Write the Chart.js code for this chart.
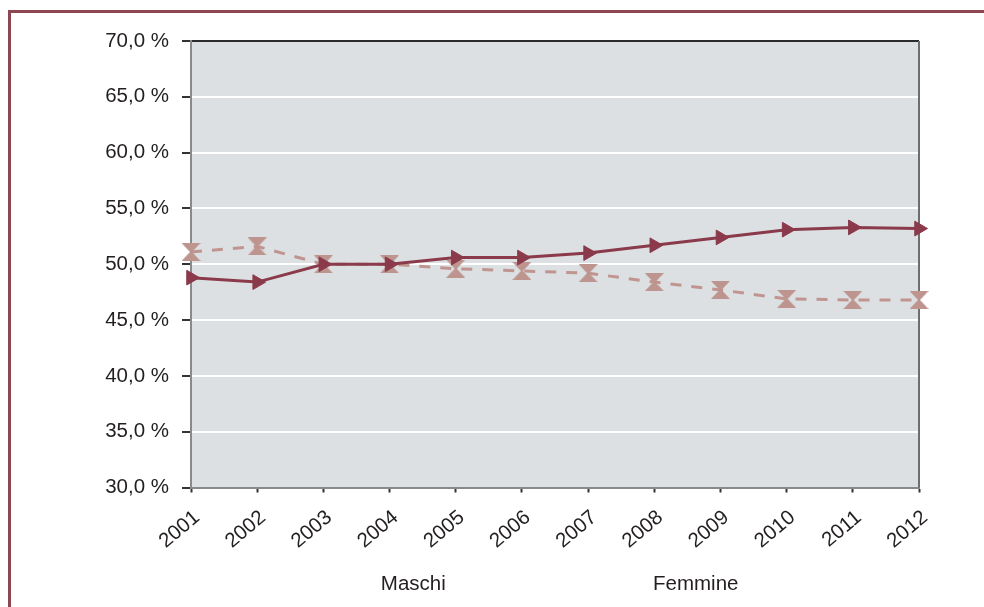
<!DOCTYPE html>
<html>
<head>
<meta charset="utf-8">
<script src="https://cdn.jsdelivr.net/npm/chart.js@4/dist/chart.umd.min.js"></script>
<style>
  html, body { margin: 0; padding: 0; background: #fff; overflow: hidden; }
  #cornice {
    position: absolute; left: 8px; top: 10px; width: 2000px; height: 2000px;
    border-top: 3px solid #8d4652; border-left: 3px solid #8d4652;
  }
  #box { position: absolute; left: 0; top: 0; width: 984px; height: 607px; }
</style>
</head>
<body>
<div id="cornice"></div>
<div id="box"><canvas id="grafico" width="984" height="607"></canvas></div>
<script>
// Dati
const anni = ['2001', '2002', '2003', '2004', '2005', '2006', '2007', '2008', '2009', '2010', '2011', '2012'];
const maschi = [48.8, 48.4, 50.0, 50.0, 50.6, 50.6, 51.0, 51.7, 52.4, 53.1, 53.3, 53.2];
const femmine = [51.1, 51.6, 50.0, 50.0, 49.6, 49.4, 49.2, 48.4, 47.7, 46.9, 46.8, 46.8];
const etichette = ['Maschi', 'Femmine'];

const FONT = { family: '"Liberation Sans", Arial, sans-serif', size: 20.5 };
const TESTO = '#231f20';

// marcatore a clessidra per le femmine
function clessidra(colore) {
  const c = document.createElement('canvas');
  c.width = 19; c.height = 18;
  const g = c.getContext('2d');
  g.fillStyle = colore;
  g.beginPath();
  g.moveTo(0, 0); g.lineTo(19, 0); g.lineTo(10.5, 9); g.lineTo(19, 18); g.lineTo(0, 18); g.lineTo(8.5, 9);
  g.closePath();
  g.fill();
  return c;
}

const sfondo = {
  id: 'sfondo',
  beforeDraw(chart) {
    const a = chart.chartArea, ctx = chart.ctx;
    ctx.save();
    ctx.fillStyle = '#dce0e3';
    ctx.fillRect(a.left, a.top, a.right - a.left, a.bottom - a.top);
    ctx.restore();
  },
  beforeDatasetsDraw(chart) {
    const a = chart.chartArea, ctx = chart.ctx;
    ctx.save();
    ctx.strokeStyle = '#6e6e6e';
    ctx.lineWidth = 2;
    ctx.beginPath();
    ctx.moveTo(a.right, a.top);
    ctx.lineTo(a.right, a.bottom);
    ctx.stroke();
    ctx.restore();
  }
};

const ctx = document.getElementById('grafico').getContext('2d');
new Chart(ctx, {
  type: 'line',
  data: {
    labels: anni,
    datasets: [{
      label: etichette[0],
      data: maschi,
      borderColor: '#8a3a4a',
      backgroundColor: 'transparent',
      borderWidth: 3,
      pointStyle: 'triangle',
      rotation: 90,
      pointRadius: 8.5,
      pointBorderWidth: 1,
      pointBackgroundColor: '#8a3a4a',
      pointBorderColor: '#8a3a4a',
      tension: 0,
      clip: false
    }, {
      label: etichette[1],
      data: femmine,
      borderColor: '#c09590',
      backgroundColor: 'transparent',
      borderWidth: 3,
      borderDash: [11, 10],
      pointStyle: clessidra('#bd948e'),
      pointRadius: 9,
      tension: 0,
      clip: false
    }]
  },
  options: {
    responsive: false,
    animation: false,
    layout: { padding: { top: 41, right: 65, bottom: 2, left: 3 } },
    plugins: {
      tooltip: { enabled: false },
      legend: {
        position: 'bottom',
        labels: {
          font: FONT,
          color: TESTO,
          boxWidth: 187,
          padding: 10,
          generateLabels(chart) {
            return chart.data.datasets.map((d, i) => ({
              text: d.label,
              fillStyle: 'rgba(0,0,0,0)',
              strokeStyle: 'rgba(0,0,0,0)',
              lineWidth: 0,
              fontColor: TESTO,
              datasetIndex: i
            }));
          }
        }
      }
    },
    scales: {
      x: {
        offset: false,
        grid: { drawOnChartArea: false, tickLength: 5, tickColor: '#333', tickWidth: 2 },
        border: { color: '#8a8a8a', width: 2 },
        ticks: { font: FONT, color: TESTO, maxRotation: 40, minRotation: 40, padding: 13, labelOffset: 6 },
        afterFit(s) { s.height = 77; }
      },
      y: {
        min: 30,
        max: 70,
        ticks: {
          stepSize: 5,
          font: FONT,
          color: TESTO,
          padding: 13,
          callback: v => v.toFixed(1).replace('.', ',') + ' %'
        },
        grid: {
          tickLength: 9,
          lineWidth: 2,
          color: c => c.tick.value === 70 ? '#2b2b2b' : (c.tick.value === 30 ? 'transparent' : '#ffffff'),
          tickColor: '#333',
          tickWidth: 2
        },
        border: { color: '#8a8a8a', width: 2 },
        afterFit(s) { s.width = 188; }
      }
    }
  },
  plugins: [sfondo]
});
</script>
</body>
</html>
